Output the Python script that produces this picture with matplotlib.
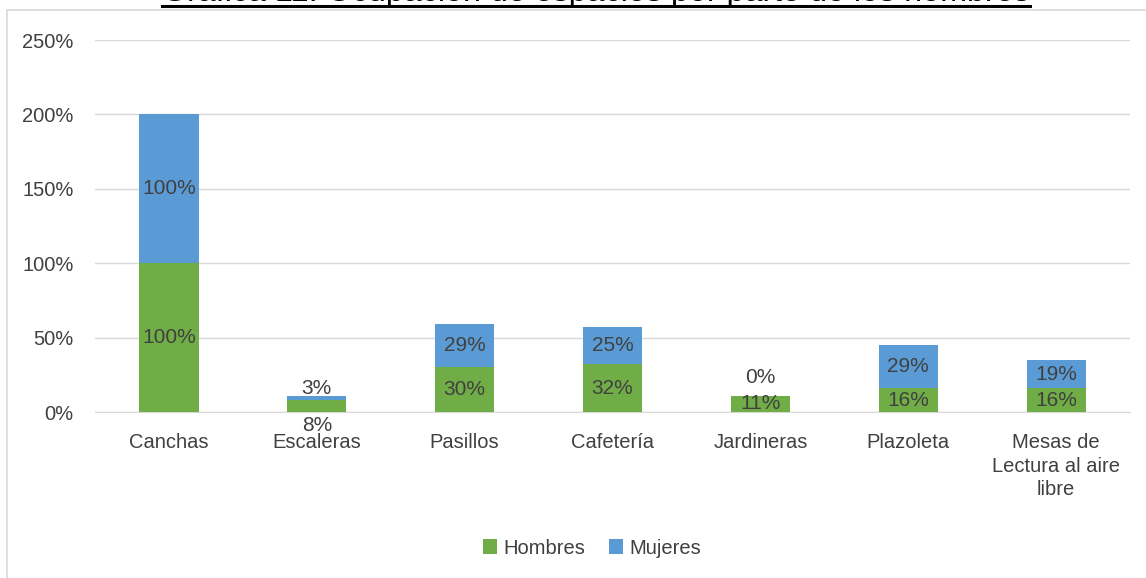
import matplotlib
matplotlib.use("Agg")
import matplotlib.pyplot as plt
from matplotlib.patches import Rectangle
from matplotlib.lines import Line2D

categories = ["Canchas", "Escaleras", "Pasillos", "Cafetería", "Jardineras", "Plazoleta",
              "Mesas de\nLectura al aire\nlibre"]
hombres = [100, 8, 30, 32, 11, 16, 16]
mujeres = [100, 3, 29, 25, 0, 29, 19]
yticks = [0, 50, 100, 150, 200, 250]
title = "Gráfica 11. Ocupación de espacios por parte de los hombres"

plt.rcParams['font.family'] = ['Liberation Sans', 'DejaVu Sans']

W, H = 1146, 578
fig = plt.figure(figsize=(W / 100, H / 100), dpi=100)
ax = fig.add_axes([95 / W, 1 - 412 / H, (1130 - 95) / W, (412 - 40) / H])

green = "#70AD47"
blue = "#5B9BD5"
x = list(range(len(categories)))
ax.bar(x, hombres, width=0.4, color=green, label="Hombres", zorder=3)
ax.bar(x, mujeres, width=0.4, bottom=hombres, color=blue, label="Mujeres", zorder=3)

ax.set_xlim(-0.5, len(categories) - 0.5)
ax.set_ylim(0, 250)
ax.set_yticks(yticks)
ax.set_yticklabels([f"{v}%" for v in yticks])
ax.set_xticks(x)
ax.set_xticklabels(categories, linespacing=1.32)
ax.tick_params(axis='both', length=0, labelsize=14.5, labelcolor="#404040")
ax.tick_params(axis='y', pad=15.5)
ax.tick_params(axis='x', pad=15)
ax.grid(axis='y', color="#D9D9D9", linewidth=1, zorder=0)
for s in ["top", "right", "left"]:
    ax.spines[s].set_visible(False)
ax.spines["bottom"].set_color("#D9D9D9")

lbl = dict(ha='center', va='center', fontsize=15, color="#404040", zorder=4)
# label offsets (points) for small segments where labels were moved to avoid overlap
h_off = [0, -14, 0, 0, 0, 0, 0]
m_off = [0, 7, 0, 0, 13, 0, 0]
for i in x:
    ax.annotate(f"{hombres[i]}%", (i, hombres[i] / 2), xytext=(0, h_off[i]),
                textcoords='offset points', **lbl)
    ax.annotate(f"{mujeres[i]}%", (i, hombres[i] + mujeres[i] / 2), xytext=(0, m_off[i]),
                textcoords='offset points', **lbl)

leg = fig.legend(loc='center', bbox_to_anchor=(592 / W, 1 - 548 / H), ncol=2, frameon=False,
                 fontsize=14.5, handlelength=0.7, handleheight=0.7, handletextpad=0.3,
                 columnspacing=1.2, labelcolor="#404040")

# chart frame
fig.add_artist(Rectangle((7 / W, -0.1), 1.2, 1 - 9.5 / H + 0.1, transform=fig.transFigure,
                         fill=False, edgecolor="#D9D9D9", linewidth=1.2))

# title (cut off at the top) with underline
t = fig.text(596 / W, 1 - 0.8 / H, title, ha='center', va='baseline', fontsize=23.2, color='black')
fig.canvas.draw()
bb = t.get_window_extent()
fig.add_artist(Line2D([bb.x0 / W, bb.x1 / W], [1 - 5.8 / H, 1 - 5.8 / H], transform=fig.transFigure,
                      color='black', linewidth=2.2))

fig.savefig("out.png", dpi=100)
